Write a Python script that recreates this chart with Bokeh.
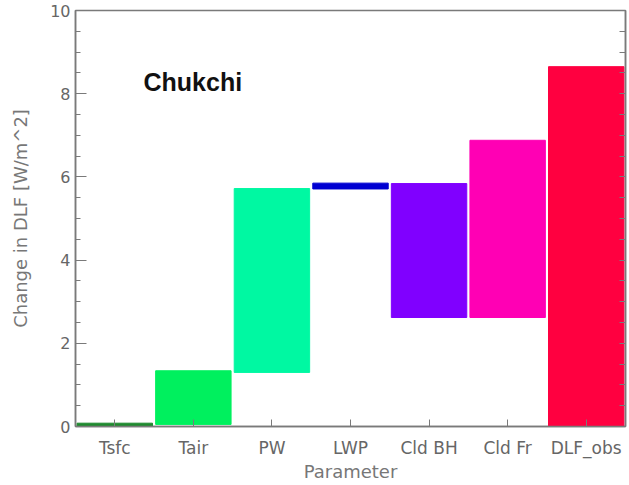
import numpy as np
from bokeh.plotting import figure
from bokeh.models import (FactorRange, Range1d, LinearAxis, SingleIntervalTicker,
                          FixedTicker, Label, ColumnDataSource)
from bokeh.embed import file_html
from bokeh.resources import INLINE

categories = ["Tsfc", "Tair", "PW", "LWP", "Cld BH", "Cld Fr", "DLF_obs"]
bar_bottom = [0.0, 0.05, 1.30, 5.71, 2.62, 2.62, 0.0]
bar_top = [0.08, 1.34, 5.72, 5.85, 5.84, 6.88, 8.65]
bar_colors = ["#1f8a2e", "#00f05e", "#00f8a2", "#0000d2", "#8000ff", "#ff00b4", "#ff0040"]
y_ticks_interval = 2

src = ColumnDataSource(dict(x=categories, bottom=bar_bottom, top=bar_top, color=bar_colors))

p = figure(width=629, height=485, output_backend="svg", toolbar_location=None,
           x_range=FactorRange(factors=categories, range_padding=0),
           y_range=Range1d(0, 10),
           min_border_left=75, min_border_right=4, min_border_top=10, min_border_bottom=59)

p.vbar(x="x", bottom="bottom", top="top", width=0.96, color="color", source=src)

grey = "#7a7a7a"
font = "DejaVu Sans"
p.xgrid.visible = False
p.ygrid.visible = False
p.outline_line_color = grey
p.outline_line_width = 1.5

ya = p.yaxis[0]
ya.ticker = SingleIntervalTicker(interval=y_ticks_interval, num_minor_ticks=4)
ya.axis_line_color = grey
ya.axis_line_width = 1.5
ya.major_tick_in = 11
ya.major_tick_out = 0
ya.minor_tick_in = 5
ya.minor_tick_out = 0
ya.major_tick_line_color = grey
ya.minor_tick_line_color = grey
ya.major_label_text_font = font
ya.major_label_text_font_size = "16px"
ya.major_label_text_color = "#666666"
ya.axis_label = "Change in DLF [W/m^2]"
ya.axis_label_text_font = font
ya.axis_label_text_font_size = "18px"
ya.axis_label_text_font_style = "normal"
ya.axis_label_text_color = "#777777"
ya.axis_label_standoff = 16

xa = p.xaxis[0]
xa.axis_line_color = grey
xa.axis_line_width = 1.5
xa.major_tick_in = 7
xa.major_tick_out = 0
xa.major_tick_line_color = grey
xa.major_label_text_font = font
xa.major_label_text_font_size = "17px"
xa.major_label_text_color = "#666666"
xa.major_label_standoff = 11
xa.axis_label = "Parameter"
xa.axis_label_text_font = font
xa.axis_label_text_font_size = "18px"
xa.axis_label_text_font_style = "normal"
xa.axis_label_text_color = "#777777"
xa.axis_label_standoff = 0

# right-hand axis: tick marks only, no labels
right_ticks = list(np.arange(0, 10.01, 0.5))
ra = LinearAxis(ticker=FixedTicker(ticks=[], minor_ticks=right_ticks))
ra.axis_line_color = grey
ra.axis_line_width = 1.5
ra.minor_tick_in = 6
ra.minor_tick_out = 0
ra.minor_tick_line_color = grey
ra.major_tick_in = 0
ra.major_tick_out = 0
ra.major_label_standoff = 0
p.add_layout(ra, "right")

title = Label(x=68, y=345, x_units="screen", y_units="screen", text="Chukchi",
              text_font="Liberation Sans", text_font_size="25px", text_font_style="bold",
              text_color="#111111", text_baseline="alphabetic")
p.add_layout(title)

open("out.html", "w").write(file_html(p, INLINE))
